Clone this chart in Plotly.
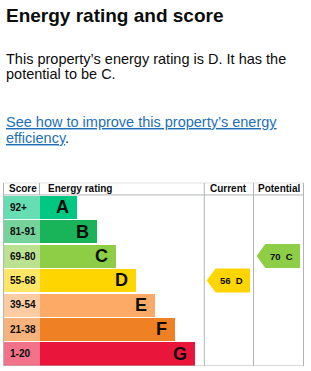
import plotly.graph_objects as go

# ---------------- data ----------------
bands = ["A", "B", "C", "D", "E", "F", "G"]
score_ranges = ["92+", "81-91", "69-80", "55-68", "39-54", "21-38", "1-20"]
band_min_score = [92, 81, 69, 55, 39, 21, 1]
band_colors = ["#00c781", "#19b459", "#8dce46", "#ffd500", "#fcaa65", "#ef8023", "#e9153b"]
current_score = 56
potential_score = 70
column_headers = ["Score", "Energy rating", "Current", "Potential"]

title_text = "Energy rating and score"
intro_lines = ["This property\u2019s energy rating is D. It has the", "potential to be C."]
link_lines = ["See how to improve this property\u2019s energy", "efficiency"]

# ---------------- layout constants ----------------
W, H = 311, 371
FONT = "Liberation Sans, Arial, sans-serif"
BORDER = "#b1b4b6"
TABLE_L, TABLE_R = 3.5, 303.5
SCORE_L, SCORE_R = 4, 39.5
CUR_L, POT_L = 204.3, 253.5
TABLE_TOP_PX, TABLE_BOT_PX = 182.7, 366.0
BAR_MIN, BAR_STEP = 37.7, 19.55
BODY_SIZE = 14.5


def tint(hexcol, a=0.6):
    h = hexcol.lstrip("#")
    r, g, b = (int(h[i:i + 2], 16) for i in (0, 2, 4))
    f = lambda c: round(c * a + 255 * (1 - a))
    return "#%02x%02x%02x" % (f(r), f(g), f(b))


def band_of(score):
    for i, m in enumerate(band_min_score):
        if score >= m:
            return i
    return len(bands) - 1


def ppy(px):
    return 1 - px / H


rows = list(range(len(bands)))
bar_len = [BAR_MIN + BAR_STEP * i for i in rows]

fig = go.Figure()

# score cells
fig.add_trace(go.Bar(
    orientation="h", y=rows, x=[SCORE_R - SCORE_L] * len(rows), base=SCORE_L,
    width=0.95, marker=dict(color=[tint(c) for c in band_colors], line=dict(width=0)),
    hoverinfo="skip",
))
# band bars
fig.add_trace(go.Bar(
    orientation="h", y=rows, x=bar_len, base=SCORE_R,
    width=0.95, marker=dict(color=band_colors, line=dict(width=0)),
    hoverinfo="skip",
))

annotations = []
for i in rows:
    annotations.append(dict(x=SCORE_L + 4, y=i, xref="x", yref="y", text="<b>%s</b>" % score_ranges[i],
                            showarrow=False, xanchor="left", yanchor="middle",
                            font=dict(family=FONT, size=10, color="#0b0c0c")))
    annotations.append(dict(x=SCORE_R + bar_len[i] - 6, y=i, xref="x", yref="y", text="<b>%s</b>" % bands[i],
                            showarrow=False, xanchor="right", yanchor="middle",
                            font=dict(family=FONT, size=18, color="#0b0c0c")))


# arrows (current / potential)
def arrow(score, left, right, tip):
    i = band_of(score)
    half = 0.49
    xs = [left, left + tip, right, right, left + tip, left]
    ys = [i, i - half, i - half, i + half, i + half, i]
    fig.add_trace(go.Scatter(x=xs, y=ys, mode="lines", fill="toself", fillcolor=band_colors[i],
                             line=dict(width=0, color=band_colors[i]), hoverinfo="skip"))
    annotations.append(dict(x=(left + tip + right) / 2 - 1, y=i, xref="x", yref="y",
                            text="<b>%d\u00a0\u00a0%s</b>" % (score, bands[i]), showarrow=False,
                            xanchor="center", yanchor="middle",
                            font=dict(family=FONT, size=9.5, color="#0b0c0c")))


arrow(current_score, 206.7, 250.0, 9)
arrow(potential_score, 256.7, 300.0, 8.5)

# headers
hdr_y = -0.75
annotations += [
    dict(x=7, y=hdr_y, text="<b>%s</b>" % column_headers[0], xanchor="left"),
    dict(x=45.5, y=hdr_y, text="<b>%s</b>" % column_headers[1], xanchor="left"),
    dict(x=(CUR_L + POT_L) / 2, y=hdr_y, text="<b>%s</b>" % column_headers[2], xanchor="center"),
    dict(x=(POT_L + TABLE_R) / 2, y=hdr_y, text="<b>%s</b>" % column_headers[3], xanchor="center"),
]
for a in annotations[-4:]:
    a.update(xref="x", yref="y", showarrow=False, yanchor="middle",
             font=dict(family=FONT, size=10, color="#0b0c0c"))

# table lines
shapes = []
line = dict(color=BORDER, width=1)
shapes.append(dict(type="rect", xref="x", yref="y", x0=TABLE_L, x1=TABLE_R, y0=-1.0, y1=6.5, line=line))
shapes.append(dict(type="line", xref="x", yref="y", x0=TABLE_L, x1=TABLE_R, y0=-0.5, y1=-0.5, line=line))
shapes.append(dict(type="line", xref="x", yref="y", x0=SCORE_R, x1=SCORE_R, y0=-1.0, y1=-0.5, line=line))
for xv in (CUR_L, POT_L):
    shapes.append(dict(type="line", xref="x", yref="y", x0=xv, x1=xv, y0=-1.0, y1=6.5, line=line))

# texts above chart
annotations.append(dict(x=4 / W, y=ppy(15.5), xref="paper", yref="paper", text="<b>%s</b>" % title_text,
                        showarrow=False, xanchor="left", yanchor="middle",
                        font=dict(family=FONT, size=19, color="#0b0c0c")))
for t, yp in zip(intro_lines, (58.5, 73.5)):
    annotations.append(dict(x=4 / W, y=ppy(yp), xref="paper", yref="paper", text=t,
                            showarrow=False, xanchor="left", yanchor="middle",
                            font=dict(family=FONT, size=BODY_SIZE, color="#0b0c0c")))
annotations.append(dict(x=4 / W, y=ppy(121.5), xref="paper", yref="paper", text="<u>%s</u>" % link_lines[0],
                        showarrow=False, xanchor="left", yanchor="middle",
                        font=dict(family=FONT, size=BODY_SIZE, color="#1d70b8")))
annotations.append(dict(x=4 / W, y=ppy(138), xref="paper", yref="paper",
                        text="<u>%s</u><span style='color:#0b0c0c'>.</span>" % link_lines[1],
                        showarrow=False, xanchor="left", yanchor="middle",
                        font=dict(family=FONT, size=BODY_SIZE, color="#1d70b8")))

fig.update_layout(
    width=W, height=H, margin=dict(l=0, r=0, t=0, b=0),
    paper_bgcolor="white", plot_bgcolor="white", showlegend=False,
    barmode="overlay", bargap=0,
    xaxis=dict(range=[0, W], visible=False, fixedrange=True),
    yaxis=dict(range=[6.5, -1.0], visible=False, fixedrange=True,
               domain=[ppy(TABLE_BOT_PX), ppy(TABLE_TOP_PX)]),
    annotations=annotations, shapes=shapes,
)

fig.write_html("out.html", config={"displayModeBar": False})
